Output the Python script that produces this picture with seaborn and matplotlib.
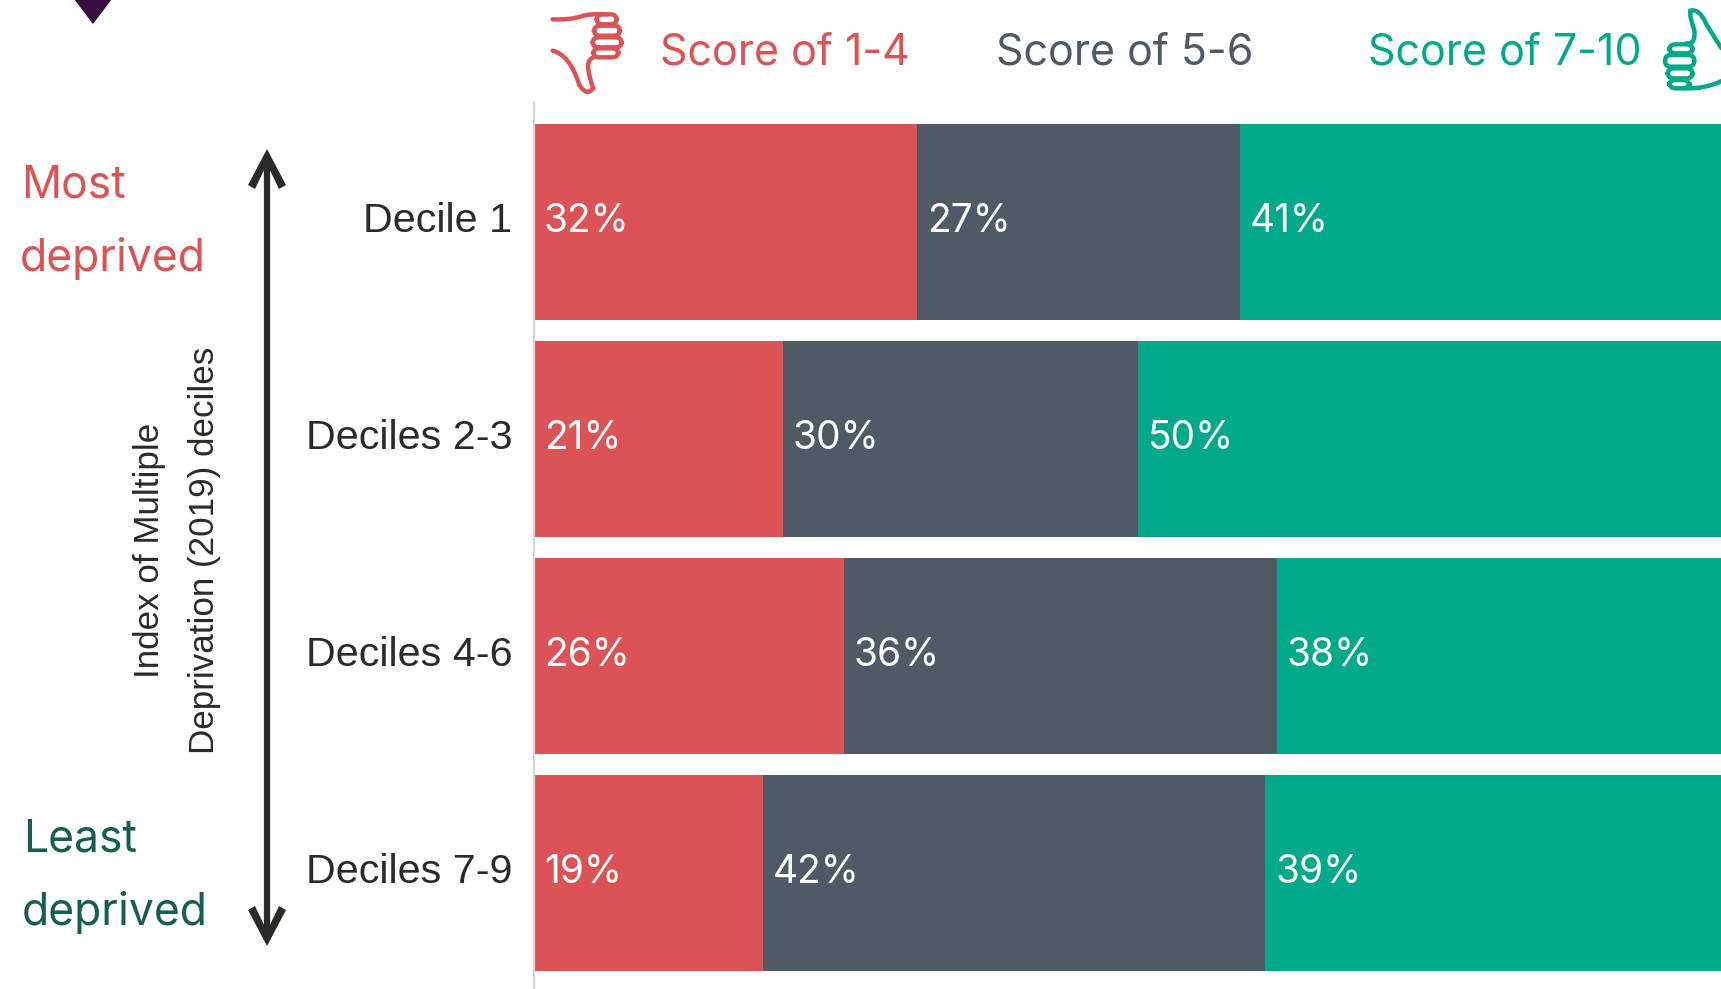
import matplotlib
matplotlib.use("Agg")
import matplotlib.pyplot as plt
import seaborn as sns
import pandas as pd
from matplotlib.lines import Line2D
from matplotlib.patches import FancyBboxPatch, PathPatch, Polygon
from matplotlib.path import Path
from matplotlib.transforms import Affine2D

sns.set_theme(style="white")
plt.rcParams["font.family"] = ["Inter", "DejaVu Sans"]

W, H = 1721, 989
LEFT = 534

categories = ["Decile 1", "Deciles 2-3", "Deciles 4-6", "Deciles 7-9"]
low = [32.0, 20.8, 25.9, 19.1]
mid = [27.0, 29.7, 36.2, 42.0]
high = [41.0, 49.5, 37.9, 38.9]

RED = "#dc5356"
GREY = "#505a66"
GREEN = "#00a98a"
DARK = "#2b2a26"
DARK_GREEN = "#175e50"

df = pd.DataFrame({"group": categories, "low": low, "mid": mid, "high": high})
df["mid_end"] = df["low"] + df["mid"]
df["high_end"] = df["mid_end"] + df["high"]

fig = plt.figure(figsize=(W / 100, H / 100), dpi=100)
# pixel coordinates of the image, y going down
PX = Affine2D().scale(1, -1).translate(0, H)
ax = fig.add_axes([LEFT / W, 0, 1 - LEFT / W, 1 - 102 / H])

# stacked bars: longest first, shorter ones drawn on top
for col, colour in [("high_end", GREEN), ("mid_end", GREY), ("low", RED)]:
    sns.barplot(data=df, x=col, y="group", color=colour, width=0.903, saturation=1, ax=ax, linewidth=0)

ax.set_xlim(0, (W - LEFT) / 11.97)
ax.set_ylim(3.535, -0.553)
ax.set_xlabel("")
ax.set_ylabel("")
ax.set_xticks([])
ax.tick_params(axis="y", length=0, pad=15.5, labelsize=29.7, labelcolor=DARK)
for lab in ax.get_yticklabels():
    lab.set_family(["Liberation Sans", "DejaVu Sans"])
    lab.set_transform(lab.get_transform() + Affine2D().translate(0, 5))
sns.despine(ax=ax, top=True, right=True, bottom=True)
ax.spines["left"].set_color("#d4d4d4")
ax.spines["left"].set_linewidth(1.6)

# value labels
for i in range(len(categories)):
    for start, val in [(0, low[i]), (df["low"][i], mid[i]), (df["mid_end"][i], high[i])]:
        ax.annotate(f"{val:.0f}%", (start, i), xytext=(7, 0.5), textcoords="offset points",
                    color="white", fontsize=28, va="center", ha="left")


def label(x, y, s, colour, size):
    fig.text(x / W, 1 - y / H, s, color=colour, fontsize=size, va="center")


# legend row
label(660, 53, "Score of 1-4", RED, 31)
label(996, 53, "Score of 5-6", GREY, 31)
label(1368, 53, "Score of 7-10", GREEN, 31)

# side labels
label(21, 186, "Most", RED, 32)
label(20, 258, "deprived", RED, 32)
label(23, 840, "Least", DARK_GREEN, 32)
label(22, 912, "deprived", DARK_GREEN, 32)
fig.text(177 / W, 1 - 550 / H, "Index of Multiple\nDeprivation (2019) deciles", color=DARK, fontsize=25.2,
         family=["Liberation Sans", "DejaVu Sans"], rotation=90, ha="center", va="center",
         linespacing=1.85, multialignment="center")

# double arrow
fig.add_artist(Line2D([267, 267], [156, 940], color=DARK, lw=4.5, transform=PX, solid_capstyle="butt"))
for tip, sign in [(149, 1), (946, -1)]:
    head = [(267, tip), (286, tip + sign * 36), (279, tip + sign * 40), (267, tip + sign * 15),
            (255, tip + sign * 40), (248, tip + sign * 36)]
    fig.add_artist(Polygon(head, closed=True, transform=PX, facecolor=DARK, edgecolor="none"))

# dark marker cut off at the top
fig.add_artist(Polygon([(74, -1), (112, -1), (93, 24)], closed=True, transform=PX,
                       facecolor="#3a0f3f", edgecolor="none"))


# thumb icons
def outline(points, colour):
    codes = [Path.MOVETO] + [Path.CURVE3] * (len(points) - 1)
    fig.add_artist(PathPatch(Path(points, codes), transform=PX, facecolor="none", edgecolor=colour,
                             lw=3.2, capstyle="round"))


def finger(x0, y0, x1, y1, colour):
    fig.add_artist(FancyBboxPatch((x0, y0), x1 - x0, y1 - y0, boxstyle="round,pad=0,rounding_size=6",
                                  transform=PX, facecolor="none", edgecolor=colour, lw=3.2))


def down(x, y):
    return (540 + x / 3, 5 + y / 3)


def up(x, y):
    return (1651 + x / 3, y / 3)


for a, b, c, d in [(170, 28, 230, 58), (162, 62, 240, 92), (158, 97, 245, 127), (160, 130, 235, 157)]:
    finger(*down(a, b), *down(c, d), RED)
outline([down(*p) for p in [(38, 43), (90, 45), (120, 35), (150, 25), (200, 28)]], RED)
outline([down(*p) for p in [(160, 157), (140, 165), (145, 195), (150, 225), (160, 250), (140, 275), (118, 240),
                            (90, 150), (38, 137)]], RED)

for a, b, c, d in [(55, 133, 125, 160), (42, 165, 130, 200), (50, 205, 125, 235), (55, 240, 115, 265)]:
    finger(*up(a, b), *up(c, d), GREEN)
outline([up(*p) for p in [(105, 130), (135, 135), (130, 90), (115, 50), (118, 32), (145, 25), (165, 70),
                          (185, 105), (212, 145)]], GREEN)
outline([up(*p) for p in [(100, 265), (160, 268), (212, 243)]], GREEN)

fig.savefig("out.png", dpi=100)
